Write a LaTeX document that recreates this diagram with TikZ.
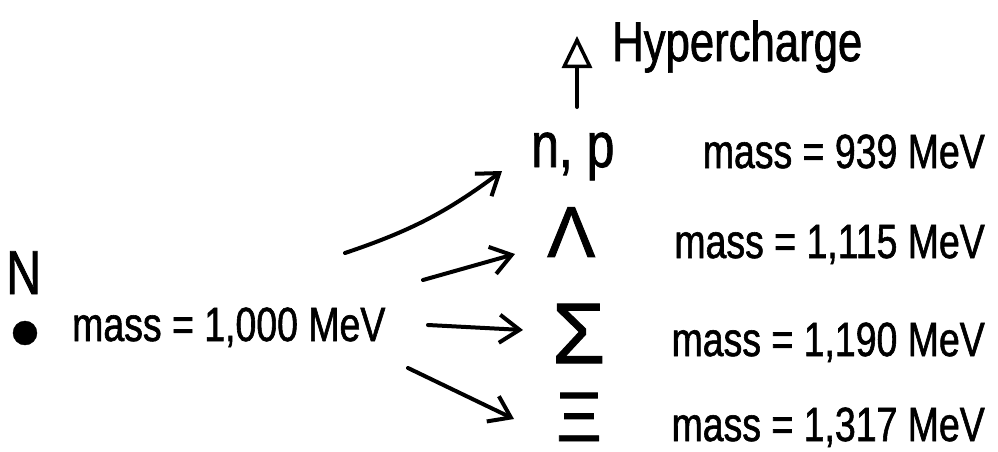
\documentclass[tikz,border=0pt]{standalone}
\usepackage{fontspec}
\setmainfont{Liberation Sans}[FakeStretch=0.78, FakeBold=1.2]
\newfontfamily\greekfont{Liberation Sans}[FakeBold=1.2]
\usetikzlibrary{arrows.meta}

\tikzset{
  ink/.style={line width=4pt, line cap=round, line join=round, black},
  decay/.style={ink, -{Straight Barb[length=20pt, width=28pt, line width=4pt]}},
  axisarrow/.style={ink, -{Triangle[open, length=32pt, width=30pt, line width=3.5pt]}},
  txt/.style={inner sep=0pt, text depth=0pt, font=\fontsize{48}{54}\selectfont},
  greek/.style={inner sep=0pt, text depth=0pt, font=\greekfont\fontsize{72}{78}\selectfont},
  blob/.style={circle, fill=black, draw=black, inner sep=0pt, minimum size=24pt},
}

\begin{document}
\begin{tikzpicture}[x=1pt, y=-1pt]
  \useasboundingbox (0,0) rectangle (998,451);

  % nucleon octet: common mass on the left
  \node[txt, font=\fontsize{62}{68}\selectfont, anchor=base west] (N) at (6,294) {N};
  \node[blob] (dot) at (25,333) {};
  \node[txt, anchor=base west] (m0) at (72,341) {mass = 1,000 MeV};

  % hypercharge axis
  \node[txt, font=\fontsize{56}{62}\selectfont, anchor=base west] (hyp) at (612,61) {Hypercharge};
  \coordinate (axisfoot) at (577,107);
  \coordinate (axistip) at (577,36);
  \draw[axisarrow] (axisfoot) -- (axistip);

  % split states
  \node[txt, font=\fontsize{64}{70}\selectfont, anchor=base west] (np) at (531,167) {n, p};
  \node[greek, anchor=base west] (lam) at (547,257) {Λ};
  \node[greek, font=\greekfont\fontsize{86}{92}\selectfont, anchor=base west] (sig) at (552,363) {Σ};
  \node[greek, font=\greekfont\fontsize{70}{76}\selectfont, anchor=base west] (xi) at (556,441) {Ξ};

  \node[txt, anchor=base east] (m939) at (985,168) {mass = 939 MeV};
  \node[txt, anchor=base east] (m1115) at (985,258) {mass = 1,115 MeV};
  \node[txt, anchor=base east] (m1190) at (985,356) {mass = 1,190 MeV};
  \node[txt, anchor=base east] (m1317) at (985,441) {mass = 1,317 MeV};

  % splitting arrows
  \coordinate (s1) at (345,253); \coordinate (e1) at (502,171);
  \coordinate (s2) at (423,280); \coordinate (e2) at (515,254);
  \coordinate (s3) at (428,325); \coordinate (e3) at (523,330);
  \coordinate (s4) at (408,368); \coordinate (e4) at (514,419);
  \draw[decay] (s1) to[bend right=9] (e1);
  \draw[decay] (s2) -- (e2);
  \draw[decay] (s3) -- (e3);
  \draw[decay] (s4) -- (e4);
\end{tikzpicture}
\end{document}
